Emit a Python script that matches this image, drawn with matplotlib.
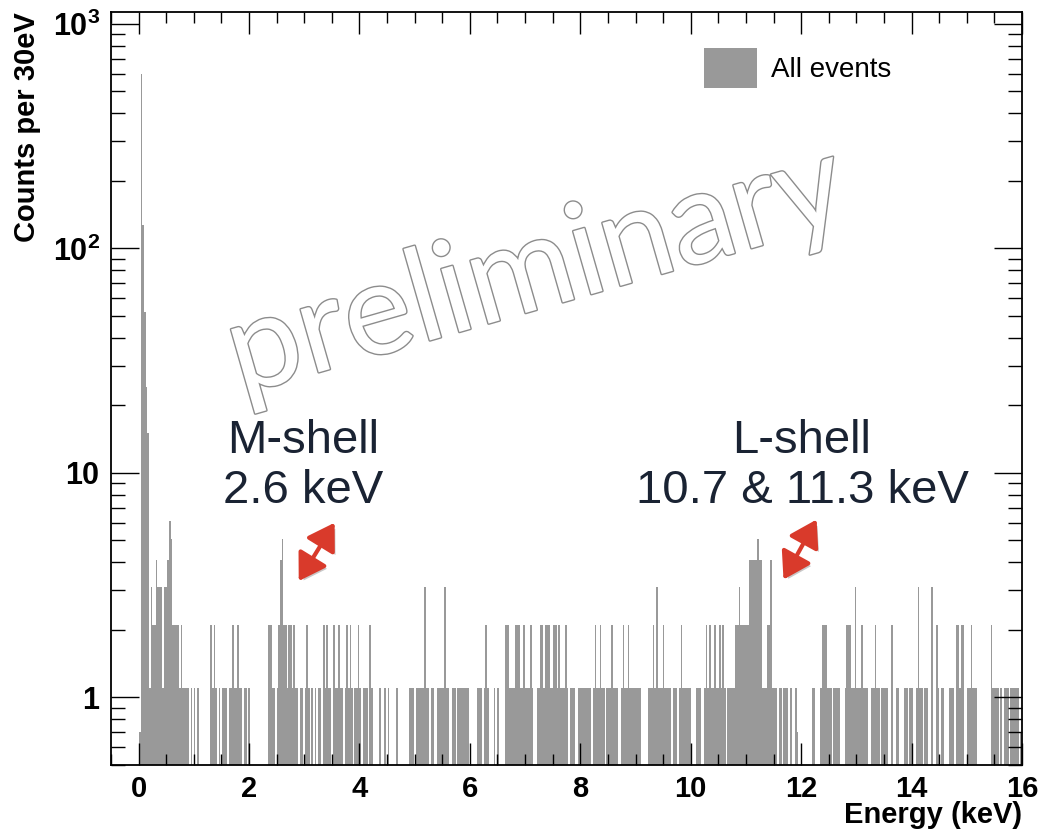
import numpy as np
import matplotlib
matplotlib.use("Agg")
import matplotlib.pyplot as plt
import matplotlib.ticker as mticker
from matplotlib.patches import Patch, FancyArrowPatch
import matplotlib.patheffects as pe

# counts per 30 eV bin, first bin starts at 0.01 keV
bin_width = 0.03
first_edge = 0.01

seg_0 = [0.6, 600, 127, 52, 24, 15, 1, 3, 2, 2, 4, 3, 3, 3, 1, 3, 3, 4, 6, 5,
         2, 2, 2, 2, 1, 2, 1, 1, 1, 1, 0, 1, 0, 1, 0, 1, 0, 0, 0, 0,
         0, 0, 0, 2, 1, 2, 1, 0, 1, 0]
seg_1 = [1, 1, 1, 0, 1, 1, 2, 1, 1, 2, 1, 1, 0, 1, 1, 0, 1, 0, 0, 0,
         0, 0, 0, 0, 0, 0, 0, 0, 2, 2, 1, 1, 0, 1, 2, 4, 5, 2, 2, 1,
         2, 2, 1, 2, 1, 1, 0, 1, 1, 0]
seg_2 = [1, 2, 1, 0, 1, 0, 1, 0, 1, 1, 0, 2, 1, 2, 1, 1, 0, 2, 1, 1,
         2, 1, 1, 0, 1, 2, 1, 2, 1, 0, 1, 1, 2, 1, 0, 1, 1, 1, 0, 2,
         1, 0, 0, 0, 0, 1, 0, 0, 1, 0]
seg_3 = [1, 0, 0, 0, 0, 1, 0, 0, 0, 0, 0, 0, 0, 1, 1, 1, 0, 1, 1, 1,
         1, 1, 3, 1, 1, 0, 1, 1, 0, 0, 1, 1, 1, 1, 3, 1, 1, 0, 0, 1,
         1, 0, 1, 1, 1, 1, 1, 1, 1, 0]
seg_4 = [0, 0, 0, 0, 1, 1, 1, 0, 1, 2, 1, 0, 0, 0, 1, 0, 1, 0, 0, 0,
         0, 2, 2, 1, 1, 1, 1, 2, 2, 2, 1, 1, 2, 1, 1, 1, 2, 1, 0, 0,
         1, 1, 2, 2, 1, 2, 2, 2, 1, 1]
seg_5 = [2, 2, 1, 2, 1, 1, 1, 2, 1, 0, 1, 1, 1, 0, 0, 1, 1, 1, 1, 1,
         1, 1, 1, 0, 1, 2, 1, 1, 2, 1, 1, 0, 1, 1, 1, 2, 1, 1, 1, 0,
         0, 1, 2, 1, 1, 2, 1, 1, 1, 1]
seg_6 = [1, 1, 1, 0, 0, 0, 0, 1, 1, 1, 2, 1, 3, 1, 1, 1, 2, 1, 1, 1,
         1, 0, 1, 1, 1, 0, 1, 2, 1, 1, 1, 1, 1, 0, 0, 0, 1, 1, 1, 0,
         0, 1, 2, 1, 2, 1, 1, 2, 1, 1]
seg_7 = [2, 1, 2, 1, 0, 1, 1, 1, 1, 1, 2, 2, 3, 2, 2, 2, 2, 2, 4, 4,
         4, 4, 4, 5, 4, 4, 1, 1, 1, 2, 2, 4, 1, 1, 1, 0, 1, 1, 0, 1,
         1, 1, 0, 1, 0, 0, 1, 0.6, 0, 0]
seg_8 = [0, 0, 0, 0, 0, 0, 1, 1, 0, 0, 0, 1, 2, 2, 2, 1, 1, 1, 0, 1,
         1, 1, 1, 0, 0, 0, 1, 2, 2, 2, 1, 1, 3, 1, 1, 1, 2, 1, 1, 1,
         0, 0, 1, 1, 2, 1, 1, 0, 1, 1]
seg_9 = [1, 1, 0, 0, 2, 0, 0, 1, 1, 0, 0, 0, 1, 1, 0, 1, 1, 0, 0, 1,
         3, 1, 1, 0, 1, 1, 0, 0, 3, 0, 0, 2, 1, 0, 1, 1, 0, 0, 0, 1,
         1, 1, 0, 2, 2, 1, 2, 2, 0, 0]
seg_10 = [1, 1, 2, 1, 1, 1, 0, 0, 0, 0, 0, 0, 0, 0, 2, 1, 1, 1, 1, 0,
          1, 0, 1, 1, 1, 0, 1, 1, 1, 1, 1, 0, 0.6]

counts = np.array(seg_0 + seg_1 + seg_2 + seg_3 + seg_4 + seg_5 + seg_6
                  + seg_7 + seg_8 + seg_9 + seg_10, dtype=float)
edges = first_edge + bin_width * np.arange(len(counts))

y_ticks = [1, 10, 100, 1000]
y_tick_labels = [r"$\mathbf{1}$", r"$\mathbf{10}$", r"$\mathbf{10^{2}}$", r"$\mathbf{10^{3}}$"]

plt.rcParams['font.family'] = ['Liberation Sans', 'DejaVu Sans']
plt.rcParams['mathtext.fontset'] = 'custom'
plt.rcParams['mathtext.bf'] = 'Liberation Sans:bold'
plt.rcParams['mathtext.rm'] = 'Liberation Sans'

fig = plt.figure(figsize=(10.39, 8.34), dpi=100)
ax = fig.add_axes([111 / 1039, 1 - 765 / 834, 911 / 1039, 753 / 834])

nz = counts > 0
ax.bar(edges[nz], counts[nz], width=bin_width, align='edge', bottom=0.1,
       color='#999999', linewidth=0, label='All events')

ax.set_yscale('log')
ax.set_xlim(-0.5, 16.0)
ax.set_ylim(0.5, 1130)

ax.xaxis.set_major_locator(mticker.MultipleLocator(2))
ax.xaxis.set_minor_locator(mticker.MultipleLocator(0.5))
ax.set_yticks(y_ticks)
ax.set_yticklabels(y_tick_labels)
ax.yaxis.set_minor_locator(mticker.LogLocator(base=10, subs=np.arange(2, 10)))
ax.yaxis.set_minor_formatter(mticker.NullFormatter())

ax.tick_params(axis='x', which='major', direction='in', length=16, width=1,
               top=True, labelsize=21, pad=7)
ax.tick_params(axis='x', which='minor', direction='in', length=8, width=1, top=True)
ax.tick_params(axis='y', which='major', direction='in', length=20, width=1,
               right=True, labelsize=22, pad=8)
ax.tick_params(axis='y', which='minor', direction='in', length=10, width=1, right=True)
for lab in ax.get_xticklabels():
    lab.set_fontweight('bold')
for s in ax.spines.values():
    s.set_linewidth(1.3)

ax.set_xlabel('Energy (keV)', loc='right', fontsize=21, fontweight='bold', labelpad=-1)
ax.set_ylabel('Counts per 30eV', loc='top', fontsize=21, fontweight='bold', labelpad=8)

ax.legend(handles=[Patch(facecolor='#999999', edgecolor='none', label='All events')],
          loc='upper right', bbox_to_anchor=(0.884, 0.985), frameon=False,
          fontsize=20, handlelength=1.9, handleheight=1.8, handletextpad=0.5)

# watermark
fig.text(536 / 1039, 1 - 272 / 834, 'preliminary', fontsize=93, rotation=16,
         ha='center', va='center', color='white', family=['Lato', 'DejaVu Sans'],
         fontweight='normal',
         path_effects=[pe.withStroke(linewidth=2.0, foreground='#8c8c8c')])

# annotations
fig.text(303 / 1039, 1 - 466 / 834, 'M-shell\n2.6 keV', fontsize=34, ha='center',
         va='center', color='#1a2333', linespacing=1.15)
fig.text(802 / 1039, 1 - 466 / 834, 'L-shell\n10.7 & 11.3 keV', fontsize=34,
         ha='center', va='center', color='#1a2333', linespacing=1.15)

shadow = [pe.SimplePatchShadow(offset=(2, -2), shadow_rgbFace='#777777', alpha=0.4),
          pe.Normal()]
for (x0, y0), (x1, y1) in [((2.9, 3.3), (3.55, 6.0)), ((11.68, 3.35), (12.28, 6.2))]:
    arr = FancyArrowPatch((x0, y0), (x1, y1), arrowstyle='<|-|>,head_length=16,head_width=10',
                          color='#d93a2b', linewidth=3, shrinkA=0, shrinkB=0)
    arr.set_path_effects(shadow)
    ax.add_patch(arr)

fig.savefig('out.png', dpi=100)
